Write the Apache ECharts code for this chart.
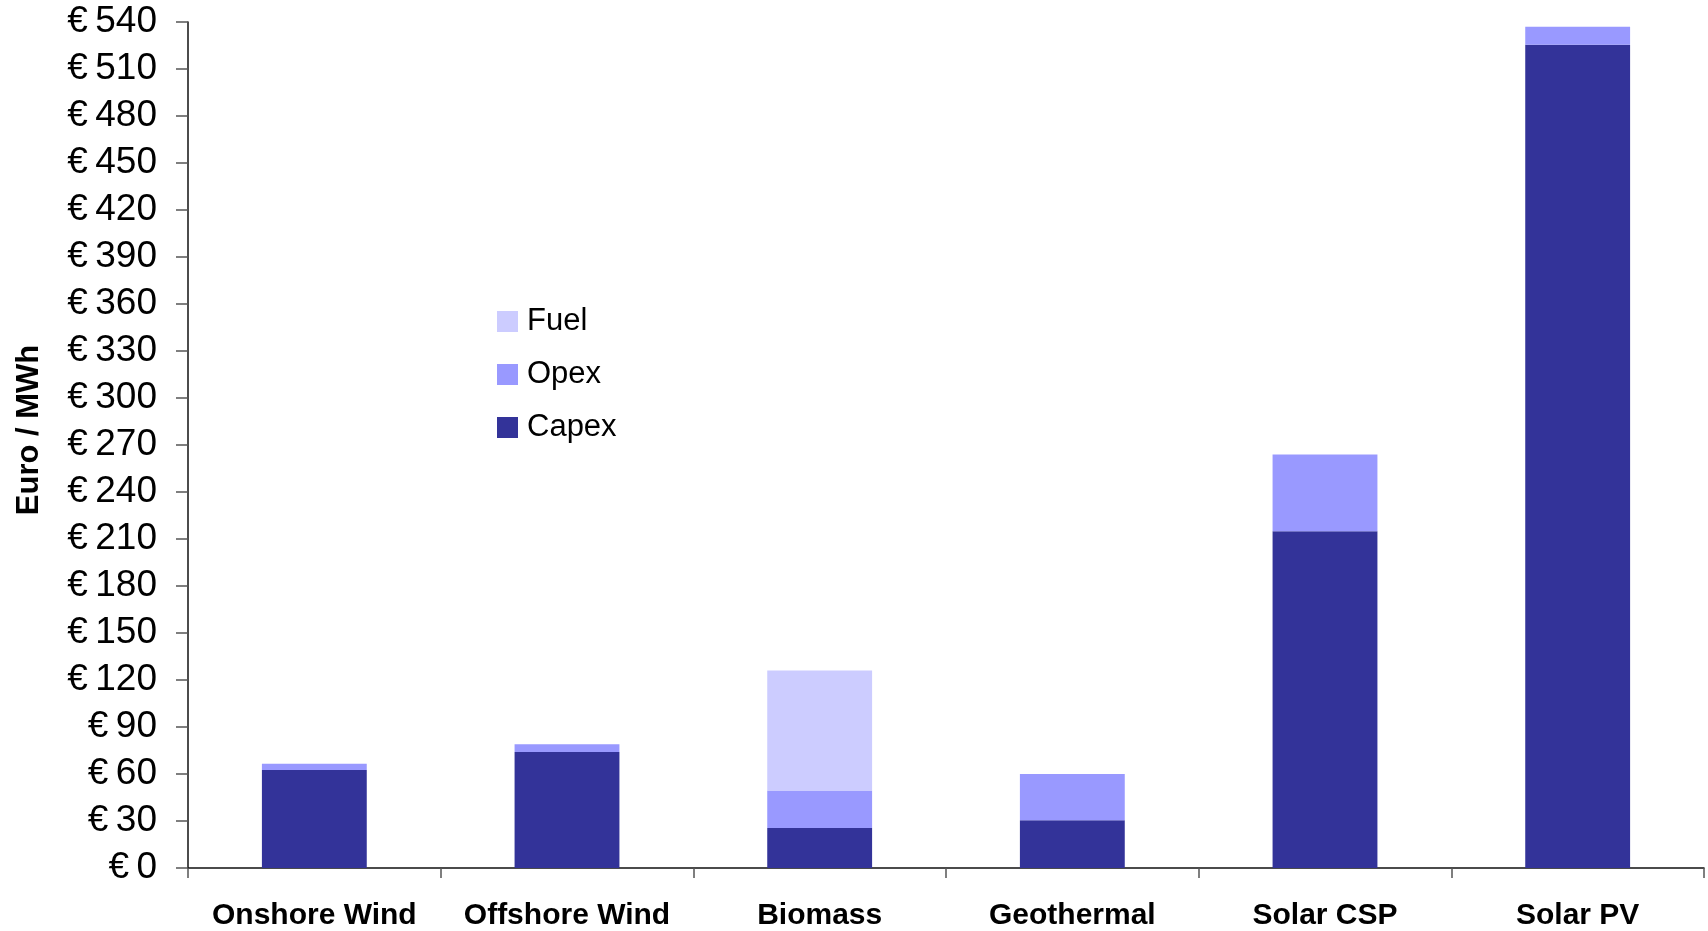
<!DOCTYPE html>
<html>
<head>
<meta charset="utf-8">
<title>Cost of electricity by technology</title>
<script src="https://cdn.jsdelivr.net/npm/echarts@6/dist/echarts.min.js"></script>
<style>
  html, body { margin: 0; padding: 0; background: #ffffff; }
  #chart { width: 1708px; height: 931px; }
</style>
</head>
<body>
<div id="chart"></div>
<script>
// Technologies along the x axis
const categories = ['Onshore Wind', 'Offshore Wind', 'Biomass', 'Geothermal', 'Solar CSP', 'Solar PV'];

// Cost components, Euro per MWh (stacked bottom to top: Capex, Opex, Fuel)
const capex = [62.5, 74, 25.5, 30.5, 215, 525.5];
const opex  = [4, 5, 24, 29.5, 49, 11.5];
const fuel  = [0, 0, 76.5, 0, 0, 0];

// Value axis range and step
const yMin = 0;
const yMax = 540;
const yStep = 30;

const FONT = '"Liberation Sans", Arial, sans-serif';
const COLORS = { capex: '#333399', opex: '#9999ff', fuel: '#ccccff' };

const chart = echarts.init(document.getElementById('chart'), null, { renderer: 'canvas' });

function barSeries(name, data, color) {
  return {
    name: name,
    type: 'bar',
    stack: 'cost',
    data: data,
    barWidth: '41.5%',
    itemStyle: { color: color },
    emphasis: { disabled: true }
  };
}

chart.setOption({
  animation: false,
  backgroundColor: '#ffffff',
  textStyle: { fontFamily: FONT },
  grid: { left: 188, right: 4, top: 22, bottom: 62, containLabel: false },
  legend: {
    orient: 'vertical',
    left: 497,
    top: 306,
    padding: 0,
    itemWidth: 21,
    itemHeight: 21,
    itemGap: 22,
    icon: 'rect',
    data: ['Fuel', 'Opex', 'Capex'],
    textStyle: { fontFamily: FONT, fontSize: 31, color: '#000', padding: [0, 0, 0, 4] }
  },
  xAxis: {
    type: 'category',
    data: categories,
    axisLine: { lineStyle: { color: '#111', width: 1.5 } },
    axisTick: { show: true, length: 10, alignWithLabel: false, lineStyle: { color: '#555', width: 1.5 } },
    axisLabel: {
      interval: 0,
      margin: 33,
      fontFamily: FONT,
      fontSize: 30,
      fontWeight: 'bold',
      color: '#000'
    },
    splitLine: { show: false }
  },
  yAxis: {
    type: 'value',
    min: yMin,
    max: yMax,
    interval: yStep,
    name: 'Euro / MWh',
    nameLocation: 'middle',
    nameGap: 143,
    nameTextStyle: {
      fontFamily: FONT,
      fontSize: 31,
      fontWeight: 'bold',
      color: '#000',
      padding: [0, 0, 0, 30]
    },
    axisLine: { show: true, lineStyle: { color: '#111', width: 1.5 } },
    axisTick: { show: true, inside: false, length: 12, lineStyle: { color: '#555', width: 1.5 } },
    axisLabel: {
      margin: 31,
      fontFamily: FONT,
      fontSize: 37,
      color: '#000',
      padding: [6, 0, 0, 0],
      formatter: function (v) { return '\u20ac\u2009' + v; }
    },
    splitLine: { show: false }
  },
  series: [
    barSeries('Capex', capex, COLORS.capex),
    barSeries('Opex', opex, COLORS.opex),
    barSeries('Fuel', fuel, COLORS.fuel)
  ]
});
</script>
</body>
</html>
